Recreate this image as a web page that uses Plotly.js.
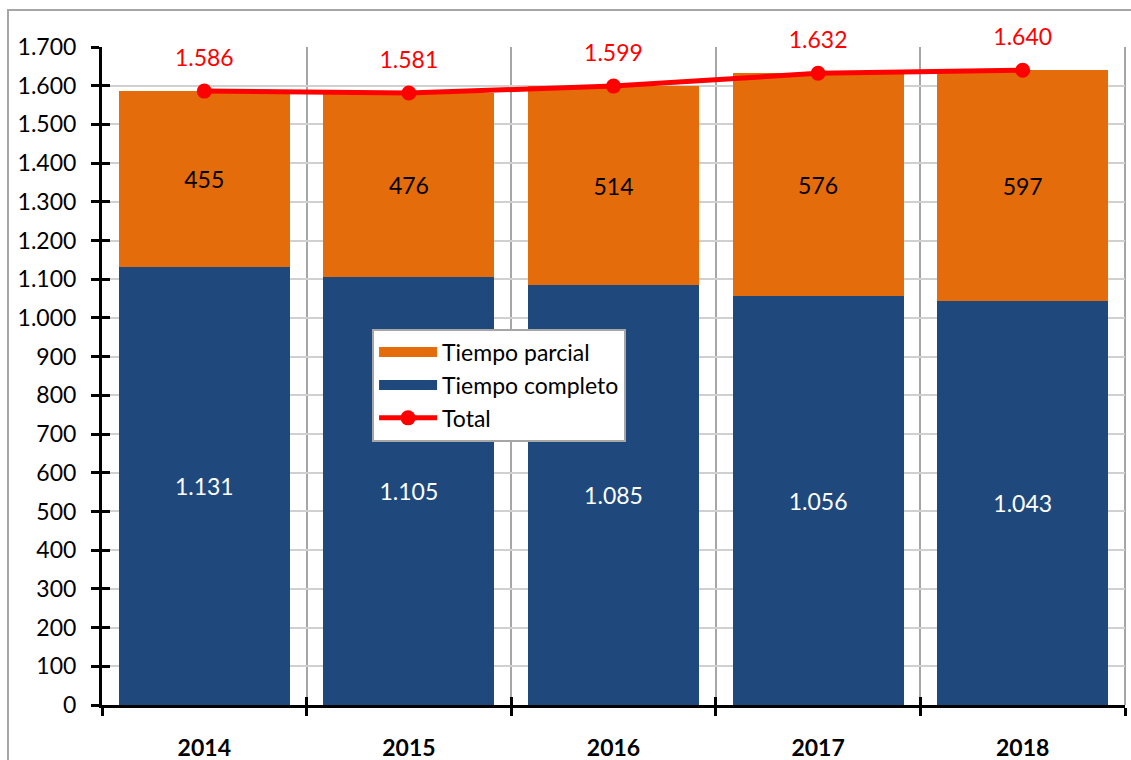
<!DOCTYPE html>
<html>
<head>
<meta charset="utf-8">
<script src="https://cdn.plot.ly/plotly-3.0.1.min.js"></script>
<style>
  html, body { margin: 0; padding: 0; background: #fff; }
  #chart { width: 1131px; height: 760px; }
</style>
</head>
<body>
<div id="chart"></div>
<script>
// ==================== Datos ====================
const years = ['2014', '2015', '2016', '2017', '2018'];
const completo = [1131, 1105, 1085, 1056, 1043];
const parcial = [455, 476, 514, 576, 597];
const total = [1586, 1581, 1599, 1632, 1640];

const FONT = 'Lato, "Open Sans", sans-serif';
const ORANGE = '#E46C0A';
const BLUE = '#1F497D';
const RED = '#FF0000';

const traces = [
  {
    type: 'bar', name: 'Tiempo completo', x: years, y: completo,
    marker: { color: BLUE },
    texttemplate: '%{y:,}', textposition: 'inside', insidetextanchor: 'middle',
    textfont: { color: '#ffffff', size: 23, family: FONT },
    constraintext: 'none', hoverinfo: 'skip', showlegend: false
  },
  {
    type: 'bar', name: 'Tiempo parcial', x: years, y: parcial,
    marker: { color: ORANGE },
    texttemplate: '%{y:,}', textposition: 'inside', insidetextanchor: 'middle',
    textfont: { color: '#000000', size: 23, family: FONT },
    constraintext: 'none', hoverinfo: 'skip', showlegend: false
  },
  {
    type: 'scatter', mode: 'lines+markers', name: 'Total', x: years, y: total,
    line: { color: RED, width: 5 },
    marker: { color: RED, size: 15 },
    cliponaxis: false, hoverinfo: 'skip', legendrank: 3
  },
  // etiquetas del total: marcador invisible grande para separar el texto
  {
    type: 'scatter', mode: 'markers+text', x: years, y: total,
    marker: { color: 'rgba(0,0,0,0)', size: 30 },
    texttemplate: '%{y:,}', textposition: 'top center',
    textfont: { color: RED, size: 23, family: FONT },
    cliponaxis: false, hoverinfo: 'skip', showlegend: false
  },
  // entradas de leyenda con símbolo rectangular ancho
  {
    type: 'scatter', mode: 'lines', name: 'Tiempo parcial', x: [null], y: [null],
    line: { color: ORANGE, width: 15 }, hoverinfo: 'skip', legendrank: 1
  },
  {
    type: 'scatter', mode: 'lines', name: 'Tiempo completo', x: [null], y: [null],
    line: { color: BLUE, width: 15 }, hoverinfo: 'skip', legendrank: 2
  },
  // eje auxiliar para las marcas interiores
  {
    type: 'scatter', mode: 'markers', x: years, y: total, xaxis: 'x2', yaxis: 'y2',
    marker: { opacity: 0 }, showlegend: false, hoverinfo: 'skip'
  }
];

const layout = {
  width: 1131, height: 760,
  margin: { l: 102, r: 6, t: 47, b: 55 },
  paper_bgcolor: '#ffffff', plot_bgcolor: '#ffffff',
  separators: ',.',
  barmode: 'stack', bargap: 0.165,
  font: { family: FONT, size: 23, color: '#000' },
  showlegend: true,
  legend: {
    x: 0.264, y: 0.572, xanchor: 'left', yanchor: 'top',
    bgcolor: '#ffffff', bordercolor: '#a6a6a6', borderwidth: 2,
    font: { family: FONT, size: 23, color: '#000' },
    itemwidth: 58, traceorder: 'normal', tracegroupgap: 0
  },
  xaxis: {
    type: 'category', range: [-0.5, 4.5], tickson: 'boundaries',
    showgrid: true, gridcolor: '#a6a6a6', gridwidth: 2,
    showline: true, linecolor: '#000', linewidth: 3,
    ticks: 'outside', ticklen: 8, tickwidth: 3, tickcolor: '#000',
    ticklabelstandoff: 20,
    tickfont: { family: FONT, size: 23, color: '#000', weight: 'bold' },
    zeroline: false, fixedrange: true
  },
  yaxis: {
    range: [0, 1700], dtick: 100, tickformat: ',d',
    showgrid: true, gridcolor: '#d0d0d0', gridwidth: 2,
    showline: true, linecolor: '#000', linewidth: 3,
    ticks: 'outside', ticklen: 8, tickwidth: 3, tickcolor: '#000',
    ticklabelstandoff: 10,
    tickfont: { family: FONT, size: 23, color: '#000' },
    zeroline: false, fixedrange: true
  },
  xaxis2: {
    type: 'category', overlaying: 'x', range: [-0.5, 4.5], tickson: 'boundaries',
    showgrid: false, showline: false, showticklabels: false,
    ticks: 'inside', ticklen: 8, tickwidth: 3, tickcolor: '#000', side: 'bottom',
    fixedrange: true
  },
  yaxis2: {
    overlaying: 'y', range: [0, 1700], dtick: 100, side: 'left',
    showgrid: false, showline: false, showticklabels: false, zeroline: false,
    ticks: 'inside', ticklen: 8, tickwidth: 3, tickcolor: '#000',
    fixedrange: true
  },
  shapes: [
    {
      type: 'rect', xref: 'paper', yref: 'paper',
      x0: -0.0919, x1: 1.2, y0: -0.3, y1: 1.0562,
      line: { color: '#a6a6a6', width: 2 }, layer: 'below'
    },
    {
      type: 'line', xref: 'paper', yref: 'paper',
      x0: 1, x1: 1, y0: 0, y1: 1,
      line: { color: '#a6a6a6', width: 2 }, layer: 'below'
    }
  ]
};

Plotly.newPlot('chart', traces, layout, { displayModeBar: false, staticPlot: true });
</script>
</body>
</html>
